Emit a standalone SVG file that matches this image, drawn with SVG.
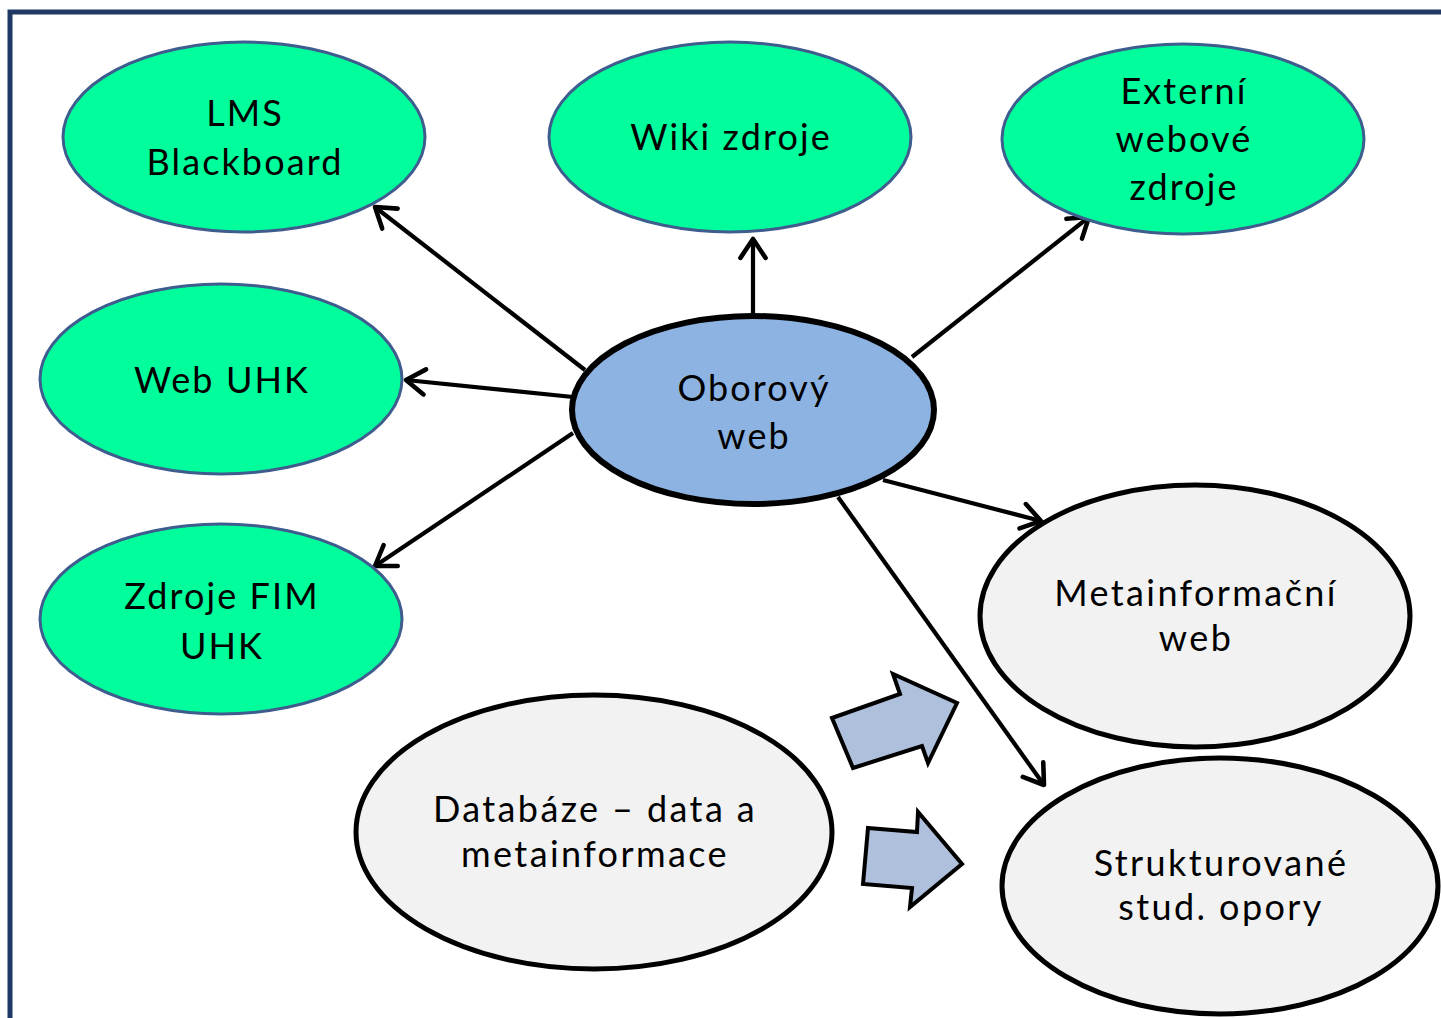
<svg xmlns="http://www.w3.org/2000/svg" width="1441" height="1018" viewBox="0 0 1441 1018">
<defs>
<style>
.g{fill:#00FF9C;stroke:#3E5D8E;stroke-width:3}
.c{fill:#F2F2F2;stroke:#000;stroke-width:5}
.t{font-family:Lato,"Open Sans",sans-serif;font-size:36px;fill:#000;text-anchor:middle;letter-spacing:2.1px}
.s{letter-spacing:2.4px}
.ln{stroke:#000;stroke-width:4.2;fill:none;marker-end:url(#ah)}
.blk{fill:#AFC0DC;stroke:#000;stroke-width:4;stroke-linejoin:miter}
</style>
<marker id="ah" viewBox="0 0 20 20" refX="16" refY="10" markerWidth="7.5" markerHeight="7.5" orient="auto" markerUnits="strokeWidth">
<path d="M4 2 L16 10 L4 18" fill="none" stroke="#000" stroke-width="2.9" stroke-linecap="round" stroke-linejoin="round"/>
</marker>
</defs>
<rect x="0" y="0" width="1441" height="1018" fill="#fff"/>
<rect x="10" y="12" width="1445" height="1020" fill="none" stroke="#1F3864" stroke-width="5"/>
<g id="connectors">
<line class="ln" x1="585" y1="370" x2="375" y2="207"/>
<line class="ln" x1="753" y1="316" x2="753" y2="239"/>
<line class="ln" x1="912" y1="357" x2="1089" y2="217"/>
<line class="ln" x1="573" y1="397" x2="406" y2="380"/>
<line class="ln" x1="573" y1="433" x2="375" y2="566"/>
<line class="ln" x1="883" y1="480" x2="1041" y2="521"/>
<line class="ln" x1="838" y1="497" x2="1044" y2="785"/>
<polygon class="blk" points="832,718 900,694 893,674 957,703 928,763 922,746 853,768"/>
<polygon class="blk" points="868,828 917,832 918,812 962,864 910,907 912,888 863,884"/>
</g>
<g id="lms"><ellipse class="g" cx="244" cy="137" rx="181" ry="95"/><text class="t" x="245" y="126">LMS</text><text class="t" x="245" y="175">Blackboard</text></g>
<g id="wiki"><ellipse class="g" cx="730" cy="137" rx="181" ry="95"/><text class="t" x="731" y="150">Wiki zdroje</text></g>
<g id="externi"><ellipse class="g" cx="1183" cy="139" rx="181" ry="95"/><text class="t" x="1184" y="104">Externí</text><text class="t" x="1184" y="152">webové</text><text class="t" x="1184" y="200">zdroje</text></g>
<g id="webuhk"><ellipse class="g" cx="221" cy="379" rx="181" ry="95"/><text class="t" x="222" y="393">Web UHK</text></g>
<g id="fim"><ellipse class="g" cx="221" cy="619" rx="181" ry="95"/><text class="t" x="222" y="609">Zdroje FIM</text><text class="t" x="222" y="659">UHK</text></g>
<g id="oborovy"><ellipse cx="753" cy="410" rx="181" ry="94" fill="#8DB3E2" stroke="#000" stroke-width="6"/><text class="t" x="754" y="401">Oborový</text><text class="t" x="754" y="449">web</text></g>
<g id="meta"><ellipse class="c" cx="1195" cy="616" rx="215" ry="131"/><text class="t s" x="1196" y="606">Metainformační</text><text class="t s" x="1196" y="651">web</text></g>
<g id="databaze"><ellipse class="c" cx="594" cy="832" rx="238" ry="137"/><text class="t s" x="595" y="822">Databáze – data a</text><text class="t s" x="595" y="867">metainformace</text></g>
<g id="strukt"><ellipse class="c" cx="1220" cy="886" rx="218" ry="128"/><text class="t s" x="1221" y="876">Strukturované</text><text class="t s" x="1221" y="920">stud. opory</text></g>
</svg>
